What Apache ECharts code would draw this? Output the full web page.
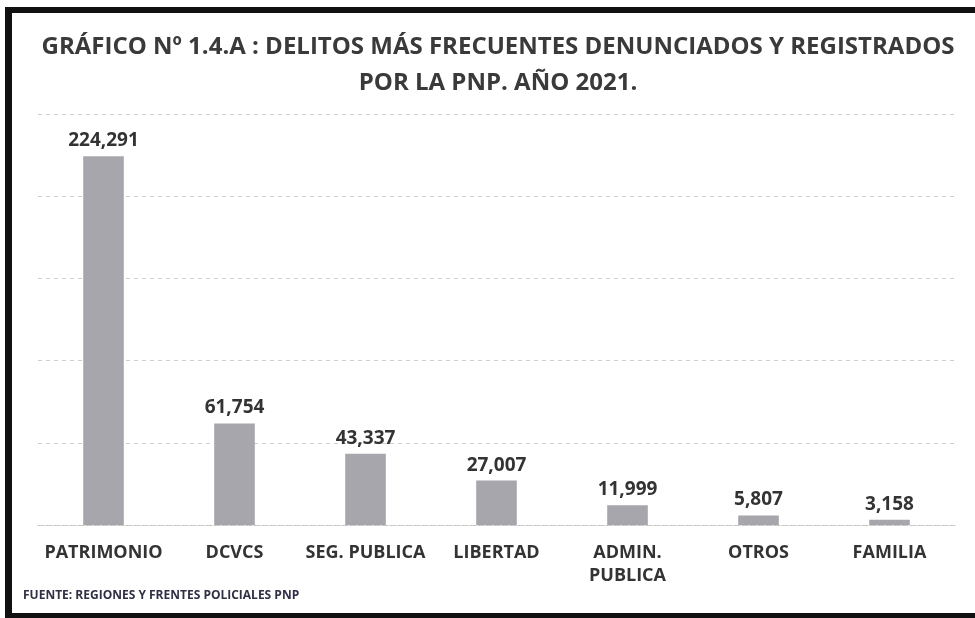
<!DOCTYPE html>
<html>
<head>
<meta charset="utf-8">
<script src="https://cdn.jsdelivr.net/npm/echarts@6/dist/echarts.min.js"></script>
<style>
html,body{margin:0;padding:0;background:#fff;}
#chart{width:975px;height:618px;}
</style>
</head>
<body>
<div id="chart"></div>
<script>
const categories = ['PATRIMONIO', 'DCVCS', 'SEG. PUBLICA', 'LIBERTAD', 'ADMIN.\nPUBLICA', 'OTROS', 'FAMILIA'];
const values = [224291, 61754, 43337, 27007, 11999, 5807, 3158];
const titleText = 'GRÁFICO Nº 1.4.A : DELITOS MÁS FRECUENTES DENUNCIADOS Y REGISTRADOS\nPOR LA PNP. AÑO 2021.';
const sourceText = 'FUENTE: REGIONES Y FRENTES POLICIALES PNP';

const chart = echarts.init(document.getElementById('chart'));
const fontFam = '"Open Sans", "DejaVu Sans", sans-serif';
chart.setOption({
  backgroundColor: '#ffffff',
  animation: false,
  title: {
    text: titleText,
    left: 493,
    top: 24,
    textAlign: 'center',
    textStyle: {
      fontFamily: fontFam,
      fontWeight: 'bold',
      fontSize: 24,
      lineHeight: 36,
      color: '#3a3a3a'
    }
  },
  grid: { left: 38, right: 20, top: 114, bottom: 93 },
  xAxis: {
    type: 'category',
    data: categories,
    axisTick: { show: false },
    axisLine: { show: true, lineStyle: { color: '#c4c4c4', type: [2, 2], width: 1 } },
    axisLabel: {
      fontFamily: fontFam,
      fontWeight: 'bold',
      fontSize: 18,
      color: '#333333',
      margin: 16,
      lineHeight: 23,
      interval: 0
    }
  },
  yAxis: {
    type: 'value',
    min: 0,
    max: 250000,
    interval: 50000,
    axisLabel: { show: false },
    axisLine: { show: false },
    axisTick: { show: false },
    splitLine: { lineStyle: { color: '#cfcfcf', type: [4, 4], width: 1 } }
  },
  series: [{
    type: 'bar',
    data: values,
    barWidth: '31%',
    itemStyle: { color: '#a6a6ac' },
    label: {
      show: true,
      position: 'top',
      distance: 6,
      fontFamily: fontFam,
      fontWeight: 'bold',
      fontSize: 19,
      color: '#333333',
      formatter: p => p.value.toLocaleString('en-US')
    }
  }],
  graphic: [
    { type: 'rect', shape: { x: 5, y: 7, width: 970, height: 6 }, style: { fill: '#111' } },
    { type: 'rect', shape: { x: 5, y: 7, width: 7, height: 611 }, style: { fill: '#111' } },
    { type: 'rect', shape: { x: 5, y: 613, width: 970, height: 5 }, style: { fill: '#111' } },
    {
      type: 'text', left: 23, top: 590,
      style: {
        text: sourceText,
        fontFamily: fontFam,
        fontWeight: 'bold',
        fontSize: 12,
        fill: '#2f2f45'
      }
    }
  ]
});
</script>
</body>
</html>
